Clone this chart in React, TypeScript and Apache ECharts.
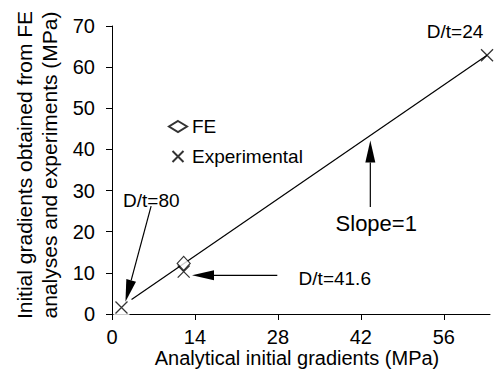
import React, { useEffect, useRef } from 'react';
import * as echarts from 'echarts';

const FONT = '"Liberation Sans", Arial, Helvetica, sans-serif';

// axis ticks
const xTicks = [0, 14, 28, 42, 56];
const xMax = 63.8;
const yMax = 70;
const yInterval = 10;

// series values
const feData = [[12.1, 12.3]];
const expData = [[1.6, 1.6], [12.1, 10.3], [63.3, 62.9]];
const slopeLine = [[3.3, 3.5], [63.3, 62.9]];
const originMask = [[1.6, 1.6]];

// annotation arrows (data coordinates: tail -> tip)
const arrowTails = [[6.6, 26.2], [27.9, 9.4], [43.6, 26.0]];
const arrowTips = [[2.27, 3.0], [13.5, 9.4], [43.6, 42.2]];

// annotation texts (data coordinates)
const noteTexts = ['D/t=80', 'D/t=41.6', 'D/t=24', 'Slope=1'];
const notePos = [[6.64, 27.5], [37.6, 8.7], [57.9, 68.7], [44.6, 22.1]];
const noteSizes = [19, 19, 19, 22];

const X_SYMBOL = 'path://M0,0L10,10M10,0L0,10';

export default function App() {
  const ref = useRef<HTMLDivElement>(null);

  useEffect(() => {
    if (!ref.current) return;
    const chart = echarts.init(ref.current, null, { renderer: 'svg' });
    const option: any = {
      animation: false,
      backgroundColor: '#fff',
      textStyle: { fontFamily: FONT, color: '#000' },
      grid: { left: 112, top: 26, right: 4, bottom: 70 },
      legend: {
        data: ['FE', 'Experimental'],
        orient: 'vertical',
        left: 163,
        top: 112,
        itemWidth: 18,
        itemHeight: 11,
        itemGap: 11,
        symbolKeepAspect: true,
        selectedMode: false,
        textStyle: { fontFamily: FONT, fontSize: 19, color: '#000' },
      },
      xAxis: {
        type: 'value',
        min: 0,
        max: xMax,
        axisLine: { show: true, onZero: false, lineStyle: { color: '#000', width: 1 } },
        axisTick: { show: true, length: 6, customValues: xTicks, lineStyle: { color: '#000' } },
        axisLabel: {
          customValues: xTicks,
          fontFamily: FONT,
          fontSize: 20,
          lineHeight: 15,
          color: '#000',
          margin: 15,
        },
        splitLine: { show: false },
      },
      yAxis: {
        type: 'value',
        min: 0,
        max: yMax,
        interval: yInterval,
        axisLine: { show: true, onZero: false, lineStyle: { color: '#000', width: 1 } },
        axisTick: { show: true, length: 6, lineStyle: { color: '#000' } },
        axisLabel: { fontFamily: FONT, fontSize: 20, color: '#000', margin: 17 },
        splitLine: { show: false },
      },
      series: [
        {
          name: 'slope',
          type: 'line',
          data: slopeLine,
          symbol: 'none',
          lineStyle: { color: '#000', width: 1.2 },
          z: 2,
          silent: true,
        },
        {
          name: 'mask',
          type: 'scatter',
          data: originMask,
          symbol: 'rect',
          symbolSize: [16, 20],
          itemStyle: { color: '#fff' },
          z: 2,
          silent: true,
        },
        {
          name: 'FE',
          type: 'scatter',
          data: feData,
          symbol: 'diamond',
          symbolSize: [13, 14],
          itemStyle: { color: '#fff', borderColor: '#000', borderWidth: 1.2 },
          z: 3,
        },
        {
          name: 'Experimental',
          type: 'scatter',
          data: expData,
          symbol: X_SYMBOL,
          symbolSize: 12,
          itemStyle: { color: 'transparent', borderColor: '#000', borderWidth: 1.3 },
          z: 4,
        },
      ],
    };
    chart.setOption(option);

    const toPx = (p: number[]) => chart.convertToPixel({ gridIndex: 0 }, p) as number[];
    const graphics: any[] = [];
    arrowTails.forEach((tail, i) => {
      const p0 = toPx(tail);
      const p1 = toPx(arrowTips[i]);
      const dx = p1[0] - p0[0];
      const dy = p1[1] - p0[1];
      const len = Math.hypot(dx, dy);
      const ux = dx / len;
      const uy = dy / len;
      const nx = -uy;
      const ny = ux;
      const L = 22;
      const W = 5;
      const bx = p1[0] - ux * L;
      const by = p1[1] - uy * L;
      graphics.push({
        type: 'line',
        shape: { x1: p0[0], y1: p0[1], x2: bx, y2: by },
        style: { stroke: '#000', lineWidth: 1.2 },
        z: 10,
      });
      graphics.push({
        type: 'polygon',
        shape: { points: [[p1[0], p1[1]], [bx + nx * W, by + ny * W], [bx - nx * W, by - ny * W]] },
        style: { fill: '#000' },
        z: 10,
      });
    });
    noteTexts.forEach((t, i) => {
      const p = toPx(notePos[i]);
      graphics.push({
        type: 'text',
        x: p[0],
        y: p[1],
        style: {
          text: t,
          fontFamily: FONT,
          fontSize: noteSizes[i],
          fill: '#000',
          align: 'center',
          verticalAlign: 'middle',
        },
        z: 10,
      });
    });
    // axis titles
    graphics.push({
      type: 'text',
      x: 297,
      y: 358,
      style: {
        text: 'Analytical initial gradients (MPa)',
        fontFamily: FONT,
        fontSize: 20,
        lineHeight: 15,
        fill: '#000',
        align: 'center',
        verticalAlign: 'middle',
      },
    });
    graphics.push({
      type: 'text',
      x: 37,
      y: 165,
      rotation: Math.PI / 2,
      style: {
        text: 'Initial gradients obtained from FE\nanalyses and experiments (MPa)',
        fontFamily: FONT,
        fontSize: 21,
        lineHeight: 25,
        fill: '#000',
        align: 'center',
        verticalAlign: 'middle',
      },
    });
    chart.setOption({ graphic: graphics });

    return () => chart.dispose();
  }, []);

  return (
    <div
      ref={ref}
      style={{ position: 'fixed', left: 0, top: 0, width: 494, height: 384 }}
    />
  );
}
